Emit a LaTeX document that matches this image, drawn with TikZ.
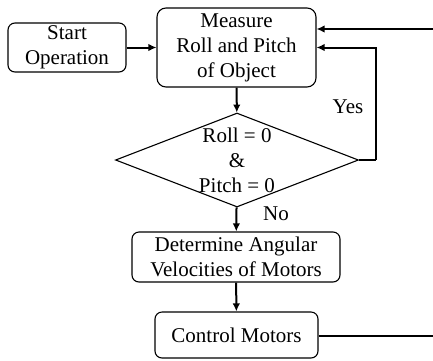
\documentclass[tikz,border=0pt]{standalone}
\usepackage{fontspec}
\setmainfont{Liberation Serif}
\usetikzlibrary{arrows.meta}
\usetikzlibrary{shapes.geometric}

\begin{document}
\begin{tikzpicture}[x=1pt, y=-1pt,
    txt/.style={font=\rmfamily\fontsize{21}{25}\selectfont, align=center},
    block/.style={txt, draw=black, line width=1.1pt, rounded corners=7pt, inner sep=0pt},
    decision/.style={diamond, draw=black, line width=1.1pt, inner sep=0pt},
    flow/.style={line width=2pt, -{Latex[length=8pt, width=7.5pt]}}]
        \useasboundingbox (0,0) rectangle (433,360);
        \coordinate (topin) at (433,29);
        \coordinate (rightout) at (433,336);
        \coordinate (yesbend) at (376,160);

        \node[block, minimum width=118pt, minimum height=49pt] (start) at (67,47.5) {Start\\Operation};
        \node[block, minimum width=159pt, minimum height=79pt, rounded corners=9pt] (measure) at (236.5,47.5) {Measure\\Roll and Pitch\\of Object};
        \node[decision, minimum width=243pt, minimum height=94pt] (check) at (237,160) {};
        \node[txt] (checktext) at (check.center) {Roll = 0\\\&\\Pitch = 0};
        \node[block, minimum width=208pt, minimum height=50pt] (angular) at (236,257) {Determine Angular\\Velocities of Motors};
        \node[block, minimum width=163pt, minimum height=46pt] (control) at (236.5,335) {Control Motors};

        \node[txt] (yes) at (348,107) {Yes};
        \node[txt] (no) at (276,214) {No};

        \draw[flow] (start) -- (measure);
        \draw[flow] (measure) -- (check);
        \draw[line width=2pt] (check.east) -- (yesbend);
        \draw[flow] (yesbend) |- (measure.east);
        \draw[flow] (check) -- (angular);
        \draw[flow] (angular) -- (control);
        \draw[line width=2pt] (control.east |- rightout) -- (rightout);
        \draw[flow] (topin) -- (topin -| measure.east);
    \end{tikzpicture}
\end{document}
